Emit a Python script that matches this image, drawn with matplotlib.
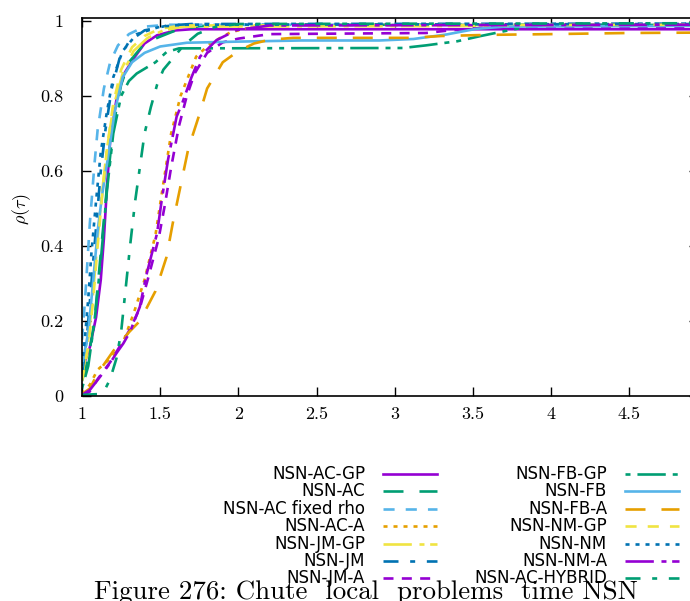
import matplotlib
matplotlib.use("Agg")
import matplotlib.pyplot as plt
from matplotlib.lines import Line2D

# performance profile data
ac_gp_x = [1, 1.05, 1.09, 1.12, 1.14, 1.16, 1.18, 1.22, 1.27, 1.33, 1.4, 1.48, 1.6, 1.7, 4.94]
ac_gp_y = [0.07, 0.13, 0.21, 0.31, 0.42, 0.56, 0.68, 0.79, 0.86, 0.9, 0.94, 0.962, 0.975, 0.978, 0.978]

ac_x = [1, 1.04, 1.08, 1.12, 1.16, 1.2, 1.25, 1.3, 1.38, 1.48, 1.6, 1.75, 1.9, 4.94]
ac_y = [0.04, 0.1, 0.2, 0.38, 0.56, 0.72, 0.83, 0.89, 0.93, 0.955, 0.975, 0.986, 0.99, 0.99]

ac_fixed_x = [1, 1.02, 1.05, 1.08, 1.1, 1.14, 1.18, 1.23, 1.3, 1.4, 1.55, 4.94]
ac_fixed_y = [0.15, 0.26, 0.46, 0.62, 0.71, 0.82, 0.89, 0.935, 0.965, 0.985, 0.99, 0.99]

ac_a_x = [1, 1.05, 1.1, 1.18, 1.26, 1.33, 1.4, 1.47, 1.52, 1.57, 1.63, 1.73, 1.82, 1.95, 2.1, 2.3, 4.94]
ac_a_y = [0.005, 0.03, 0.07, 0.1, 0.14, 0.22, 0.31, 0.43, 0.567, 0.7, 0.8, 0.905, 0.94, 0.97, 0.985, 0.99, 0.991]

jm_gp_x = [1, 1.04, 1.07, 1.1, 1.13, 1.16, 1.2, 1.26, 1.33, 1.42, 1.52, 1.65, 4.94]
jm_gp_y = [0.05, 0.15, 0.27, 0.42, 0.55, 0.66, 0.77, 0.86, 0.92, 0.955, 0.975, 0.985, 0.988]

jm_x = [1, 1.03, 1.06, 1.09, 1.12, 1.15, 1.19, 1.24, 1.3, 1.4, 1.55, 1.7, 4.94]
jm_y = [0.06, 0.15, 0.3, 0.45, 0.6, 0.71, 0.82, 0.9, 0.945, 0.975, 0.988, 0.992, 0.993]

jm_a_x = [1, 1.05, 1.1, 1.18, 1.26, 1.31, 1.37, 1.42, 1.49, 1.53, 1.57, 1.62, 1.67, 1.72, 1.8, 1.9, 2.0, 2.2, 3.2, 3.35, 3.6, 4.94]
jm_a_y = [0.0, 0.012, 0.045, 0.09, 0.145, 0.18, 0.235, 0.31, 0.42, 0.51, 0.61, 0.72, 0.8, 0.86, 0.915, 0.943, 0.953, 0.965, 0.968, 0.975, 0.983, 0.985]

fb_gp_x = [1, 1.04, 1.08, 1.12, 1.16, 1.2, 1.25, 1.3, 1.35, 1.47, 1.54, 1.62, 3.05, 3.2, 3.4, 3.55, 3.75, 3.9, 4.94]
fb_gp_y = [0.02, 0.08, 0.2, 0.36, 0.55, 0.7, 0.8, 0.84, 0.86, 0.89, 0.917, 0.927, 0.928, 0.935, 0.946, 0.96, 0.977, 0.988, 0.99]

fb_x = [1, 1.04, 1.07, 1.1, 1.13, 1.16, 1.21, 1.26, 1.32, 1.4, 1.5, 1.67, 2.0, 2.4, 2.9, 3.12, 3.33, 3.52, 3.7, 4.94]
fb_y = [0.08, 0.17, 0.3, 0.44, 0.54, 0.62, 0.76, 0.85, 0.89, 0.915, 0.932, 0.942, 0.945, 0.948, 0.948, 0.952, 0.964, 0.979, 0.985, 0.987]

fb_a_x = [1, 1.05, 1.1, 1.2, 1.3, 1.37, 1.47, 1.54, 1.58, 1.63, 1.68, 1.75, 1.8, 1.9, 2.0, 2.1, 2.2, 2.35, 3.1, 3.3, 3.6, 4.0, 4.5, 4.94]
fb_a_y = [0.005, 0.02, 0.06, 0.12, 0.17, 0.2, 0.28, 0.37, 0.46, 0.56, 0.66, 0.75, 0.82, 0.89, 0.92, 0.94, 0.95, 0.955, 0.955, 0.96, 0.963, 0.965, 0.968, 0.969]

nm_gp_x = [1, 1.04, 1.07, 1.1, 1.13, 1.16, 1.2, 1.25, 1.32, 1.4, 1.5, 1.65, 4.94]
nm_gp_y = [0.04, 0.13, 0.25, 0.4, 0.54, 0.66, 0.78, 0.87, 0.93, 0.96, 0.98, 0.988, 0.99]

nm_x = [1, 1.02, 1.04, 1.06, 1.09, 1.12, 1.16, 1.2, 1.26, 1.35, 1.5, 1.65, 4.94]
nm_y = [0.08, 0.16, 0.26, 0.38, 0.52, 0.65, 0.76, 0.85, 0.92, 0.965, 0.985, 0.99, 0.992]

nm_a_x = [1, 1.05, 1.115, 1.18, 1.22, 1.264, 1.307, 1.37, 1.41, 1.48, 1.51, 1.55, 1.605, 1.64, 1.7, 1.755, 1.86, 1.99, 2.2, 4.94]
nm_a_y = [0.003, 0.016, 0.051, 0.088, 0.114, 0.14, 0.171, 0.238, 0.32, 0.434, 0.523, 0.63, 0.745, 0.78, 0.85, 0.905, 0.949, 0.976, 0.988, 0.99]

hybrid_x = [1, 1.1, 1.15, 1.18, 1.22, 1.25, 1.28, 1.31, 1.34, 1.37, 1.4, 1.44, 1.48, 1.52, 1.58, 1.65, 1.74, 1.85, 2.0, 4.94]
hybrid_y = [0.003, 0.005, 0.02, 0.045, 0.1, 0.17, 0.29, 0.41, 0.52, 0.61, 0.7, 0.77, 0.83, 0.87, 0.9, 0.935, 0.966, 0.984, 0.992, 0.994]

labels = ["NSN-AC-GP", "NSN-AC", "NSN-AC fixed rho", "NSN-AC-A", "NSN-JM-GP", "NSN-JM", "NSN-JM-A",
          "NSN-FB-GP", "NSN-FB", "NSN-FB-A", "NSN-NM-GP", "NSN-NM", "NSN-NM-A", "NSN-AC-HYBRID"]
xs = [ac_gp_x, ac_x, ac_fixed_x, ac_a_x, jm_gp_x, jm_x, jm_a_x, fb_gp_x, fb_x, fb_a_x, nm_gp_x, nm_x, nm_a_x, hybrid_x]
ys = [ac_gp_y, ac_y, ac_fixed_y, ac_a_y, jm_gp_y, jm_y, jm_a_y, fb_gp_y, fb_y, fb_a_y, nm_gp_y, nm_y, nm_a_y, hybrid_y]

x_ticks = [1, 1.5, 2, 2.5, 3, 3.5, 4, 4.5]
x_tick_labels = ["1", "1.5", "2", "2.5", "3", "3.5", "4", "4.5"]
y_ticks = [0, 0.2, 0.4, 0.6, 0.8, 1]
y_tick_labels = ["0", "0.2", "0.4", "0.6", "0.8", "1"]

# gnuplot-ish colours (6 cycle) and dash types (8 cycle), dashes in points
colors = ["#9400D3", "#009E73", "#56B4E9", "#E69F00", "#F0E442", "#0072B2"]
dash_types = [
    "-",
    (0, (14.4, 11.5)),
    (0, (8, 8)),
    (0, (2.9, 4.3)),
    (0, (20.4, 5.5, 3.6, 4.1)),
    (0, (10.8, 8.4, 3.6, 8.4)),
    (0, (7.2, 6)),
    (34, (20.4, 5, 3.6, 5, 3.6, 5)),
]

plt.rcParams['mathtext.fontset'] = 'cm'
plt.rcParams['axes.formatter.use_mathtext'] = True
plt.rcParams['lines.scale_dashes'] = False

W, H = 690, 601
fig = plt.figure(figsize=(W / 100, H / 100), dpi=100)
ax = fig.add_axes([82 / W, 205 / H, 616 / W, 378.5 / H])

lw = 1.9
for i in range(len(labels)):
    ax.plot(xs[i], ys[i], color=colors[i % 6], ls=dash_types[i % 8], lw=lw, dash_capstyle='butt')

ax.set_xlim(1, 1 + 616 / 156.4)
ax.set_ylim(0, 1.0093)
ax.set_xticks(x_ticks)
ax.set_xticklabels(x_tick_labels, family='cmr10', fontsize=13)
ax.set_yticks(y_ticks)
ax.set_yticklabels(y_tick_labels, family='cmr10', fontsize=13)
ax.tick_params(direction='in', length=6.5, width=1, top=True, right=True)
ax.tick_params(axis='y', pad=13.5)
ax.tick_params(axis='x', pad=8)
for s in ax.spines.values():
    s.set_linewidth(1.2)

fig.text(22 / W, 1 - 209 / H, r'$\rho(\tau)$', rotation=90, fontsize=13, ha='center', va='center')

# legend drawn by hand, two columns of seven
for i, lab in enumerate(labels):
    col, row = i // 7, i % 7
    yf = 1 - (474 + row * 17.4) / H
    tx = [365, 607][col]
    x0 = [383, 625][col]
    fig.text(tx / W, yf, lab, fontsize=12, ha='right', va='center', family='DejaVu Sans')
    fig.add_artist(Line2D([x0 / W, (x0 + 54) / W], [yf, yf], transform=fig.transFigure,
                          color=colors[i % 6], ls=dash_types[i % 8], lw=lw, dash_capstyle='butt'))

fig.text(366 / W, 2 / H, "Figure 276: Chute  local  problems  time NSN",
         family='cmr10', fontsize=19.4, ha='center', va='baseline', zorder=5)

fig.savefig("out.png", dpi=100)
